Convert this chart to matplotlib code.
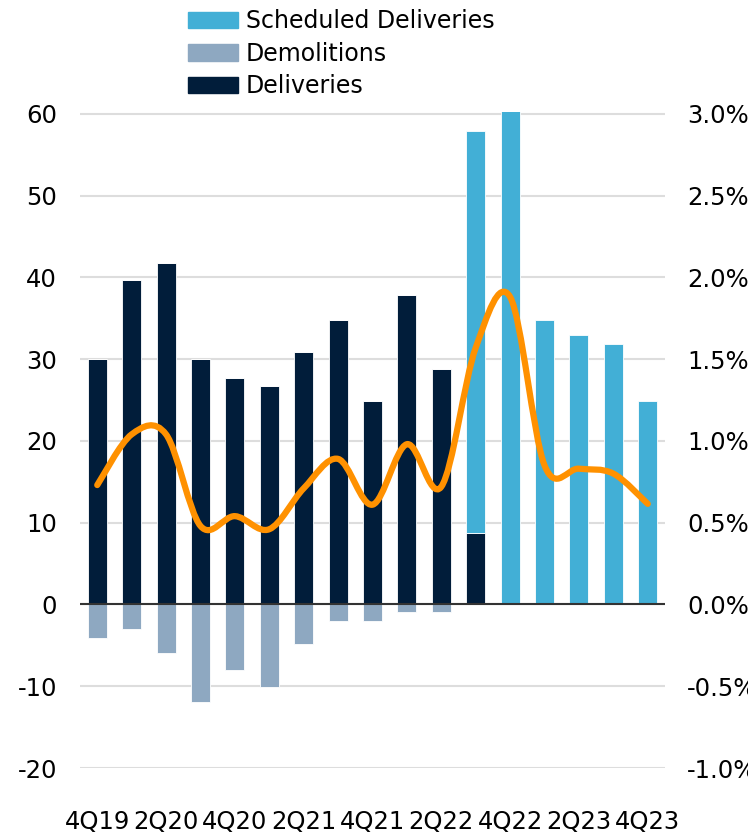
import numpy as np
import matplotlib
matplotlib.use("Agg")
import matplotlib.pyplot as plt
from matplotlib.path import Path
from matplotlib.patches import PathPatch, Patch

# ─── data ────────────────────────────────────────────────────────────────────────
quarters = ["4Q19", "1Q20", "2Q20", "3Q20", "4Q20", "1Q21", "2Q21", "3Q21", "4Q21",
            "1Q22", "2Q22", "3Q22", "4Q22", "1Q23", "2Q23", "3Q23", "4Q23"]
deliveries = [30, 39.7, 41.8, 30, 27.7, 26.7, 30.9, 34.8, 24.9, 37.9, 28.8, 8.8,
              0, 0, 0, 0, 0]
scheduled = [0, 0, 0, 0, 0, 0, 0, 0, 0, 0, 0, 49.1, 61, 34.8, 33, 31.9, 24.9]
demolitions = [-4.1, -3.0, -5.9, -11.9, -8.0, -10.1, -4.8, -2.0, -2.0, -0.9, -0.9,
               0, 0, 0, 0, 0, 0]
rate_pct = [0.73, 1.04, 1.04, 0.48, 0.54, 0.46, 0.71, 0.89, 0.61, 0.98, 0.72, 1.57,
            1.88, 0.85, 0.83, 0.80, 0.615]

C_SCHED = "#42AFD6"
C_DEMO = "#8EA8C1"
C_DELIV = "#011D3A"
C_LINE = "#FF9100"

plt.rcParams["font.family"] = ["DejaVu Sans"]
plt.rcParams["axes.unicode_minus"] = False

fig = plt.figure(figsize=(7.48, 8.35), dpi=100)
ax = fig.add_axes([0.107, 0.0802, 0.782, 0.7855])

x = np.arange(len(quarters))
w = 0.55
ax.bar(x, deliveries, w, color=C_DELIV, edgecolor="white", linewidth=0.6, zorder=3)
ax.bar(x, scheduled, w, bottom=deliveries, color=C_SCHED, edgecolor="white",
       linewidth=0.6, zorder=3)
ax.bar(x, demolitions, w, color=C_DEMO, edgecolor="white", linewidth=0.6, zorder=3)

ax.set_xlim(-0.5, len(quarters) - 0.5)
ax.set_ylim(-20, 60.2)
ax.set_yticks(np.arange(-20, 61, 10))
ax.grid(axis="y", color="#DDDDDD", linewidth=1.5, zorder=0)
ax.axhline(0, color="#333333", linewidth=1.5, zorder=4)
ax.set_xticks(x[::2])
ax.set_xticklabels(quarters[::2])
ax.tick_params(axis="x", length=0, pad=30, labelsize=17.5)
ax.tick_params(axis="y", length=0, pad=16.5, labelsize=17.5)
for s in ax.spines.values():
    s.set_visible(False)

# right axis: rate in %, smoothed line
ax2 = ax.twinx()
ax2.set_ylim(-1.0, 3.01)
ax2.set_yticks(np.arange(-1.0, 3.01, 0.5))
ax2.set_yticklabels([f"{v:.1f}%" for v in np.arange(-1.0, 3.01, 0.5)])
ax2.tick_params(axis="y", length=0, pad=16, labelsize=17.5)
for s in ax2.spines.values():
    s.set_visible(False)

# smooth curve through the points (Catmull-Rom as bezier segments)
pts = np.column_stack([x, rate_pct]).astype(float)
ext = np.vstack([pts[0], pts, pts[-1]])
verts = [tuple(pts[0])]
codes = [Path.MOVETO]
for i in range(len(pts) - 1):
    p0, p1, p2, p3 = ext[i], ext[i + 1], ext[i + 2], ext[i + 3]
    c1 = p1 + (p2 - p0) / 6
    c2 = p2 - (p3 - p1) / 6
    verts += [tuple(c1), tuple(c2), tuple(p2)]
    codes += [Path.CURVE4] * 3
ax2.add_patch(PathPatch(Path(verts, codes), facecolor="none", edgecolor=C_LINE,
                        linewidth=4.5, capstyle="round", joinstyle="round", zorder=5))

handles = [Patch(color=C_SCHED, label="Scheduled Deliveries"),
           Patch(color=C_DEMO, label="Demolitions"),
           Patch(color=C_DELIV, label="Deliveries")]
fig.legend(handles=handles, loc="upper left", bbox_to_anchor=(0.239, 1.0),
           frameon=False, fontsize=17, handlelength=2.1, handleheight=0.7,
           handletextpad=0.35, labelspacing=0.36, borderaxespad=0)

fig.savefig("out.png", dpi=100)
